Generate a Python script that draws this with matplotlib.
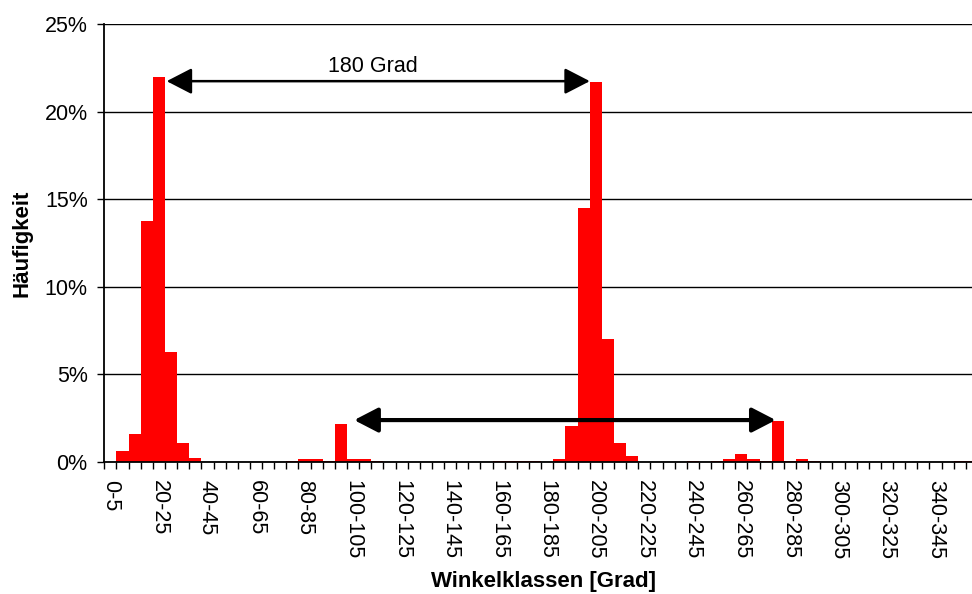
import matplotlib
matplotlib.use('Agg')
from matplotlib import pyplot as plt
from matplotlib.patches import FancyArrowPatch
from matplotlib.ticker import FuncFormatter
import numpy as np

plt.rcParams['font.family'] = ['Liberation Sans', 'DejaVu Sans']

# Winkelklassen 0-5 ... 355-360
klassen = [f'{a}-{a + 5}' for a in range(0, 360, 5)]

# Haeufigkeit in % je Klasse
haeufigkeit = [
    0.0, 0.63, 1.59, 13.75, 22.0, 6.27, 1.05, 0.21,       # 0-40
    0.0, 0.0, 0.0, 0.0, 0.0, 0.0, 0.0, 0.04,             # 40-80
    0.15, 0.15, 0.04, 2.16, 0.15, 0.15, 0.04, 0.0,       # 80-120
    0.0, 0.0, 0.0, 0.0, 0.0, 0.0, 0.0, 0.0,              # 120-160
    0.04, 0.04, 0.04, 0.04, 0.0, 0.15, 2.05, 14.5,       # 160-200
    21.7, 7.0, 1.09, 0.33, 0.0, 0.0, 0.0, 0.0,           # 200-240
    0.04, 0.0, 0.04, 0.15, 0.44, 0.15, 0.04, 2.34,       # 240-280
    0.04, 0.15, 0.04, 0.0, 0.0, 0.0, 0.0, 0.0,           # 280-320
    0.0, 0.0, 0.0, 0.0, 0.0, 0.0, 0.04, 0.04,            # 320-360
]

y_ticks = [0, 5, 10, 15, 20, 25]

# Pfeile (Klassenindex, %)
pfeil_oben = ((4.64, 21.75), (39.51, 21.75))
pfeil_unten = ((20.09, 2.38), (54.83, 2.38))
text_oben = (21.63, 22.29, '180 Grad')

fig = plt.figure(figsize=(9.72, 5.94), dpi=100)
ax = fig.add_axes([0.1073, 0.2227, 0.8989, 0.7364])

x = np.arange(len(klassen))
ax.bar(x, haeufigkeit, width=1.0, color='#ff0000', linewidth=0, zorder=3)

ax.set_xlim(-0.5, len(klassen) - 0.5)
ax.set_ylim(0, 25)

ax.set_yticks(y_ticks)
ax.yaxis.set_major_formatter(FuncFormatter(lambda v, p: f'{v:.0f}%'))
ax.grid(axis='y', color='black', linewidth=1.0, zorder=1)
ax.tick_params(axis='y', length=5, width=1, pad=7, labelsize=15.5, direction='out')

ax.set_xticks(x[::4])
ax.set_xticklabels(klassen[::4], rotation=270)
ax.set_xticks(np.arange(-0.5, len(klassen), 1), minor=True)
ax.tick_params(axis='x', which='major', length=0, pad=13, labelsize=15.5)
ax.tick_params(axis='x', which='minor', length=5, width=1, direction='out')

for s in ['top', 'right']:
    ax.spines[s].set_visible(False)
ax.spines['left'].set_linewidth(1.3)
ax.spines['bottom'].set_linewidth(1.3)
ax.spines['left'].set_zorder(4)
ax.spines['bottom'].set_zorder(4)

a1 = FancyArrowPatch(pfeil_oben[0], pfeil_oben[1],
                     arrowstyle='<|-|>,head_length=1.55,head_width=0.8',
                     mutation_scale=10, color='black', lw=1.8,
                     shrinkA=0, shrinkB=0, zorder=5)
ax.add_patch(a1)
a2 = FancyArrowPatch(pfeil_unten[0], pfeil_unten[1],
                     arrowstyle='<|-|>,head_length=1.45,head_width=0.75',
                     mutation_scale=10, color='black', lw=3.0,
                     shrinkA=0, shrinkB=0, zorder=5)
ax.add_patch(a2)
ax.text(text_oben[0], text_oben[1], text_oben[2], ha='center', va='baseline', fontsize=15.5)

fig.text(22.5 / 972, 1 - 243 / 594, 'Häufigkeit', rotation=90, ha='center', va='center',
         fontsize=16, fontweight='bold')
fig.text(543 / 972, 2 / 594, 'Winkelklassen [Grad]', ha='center', va='bottom',
         fontsize=16, fontweight='bold')

fig.savefig('out.png', dpi=100)
